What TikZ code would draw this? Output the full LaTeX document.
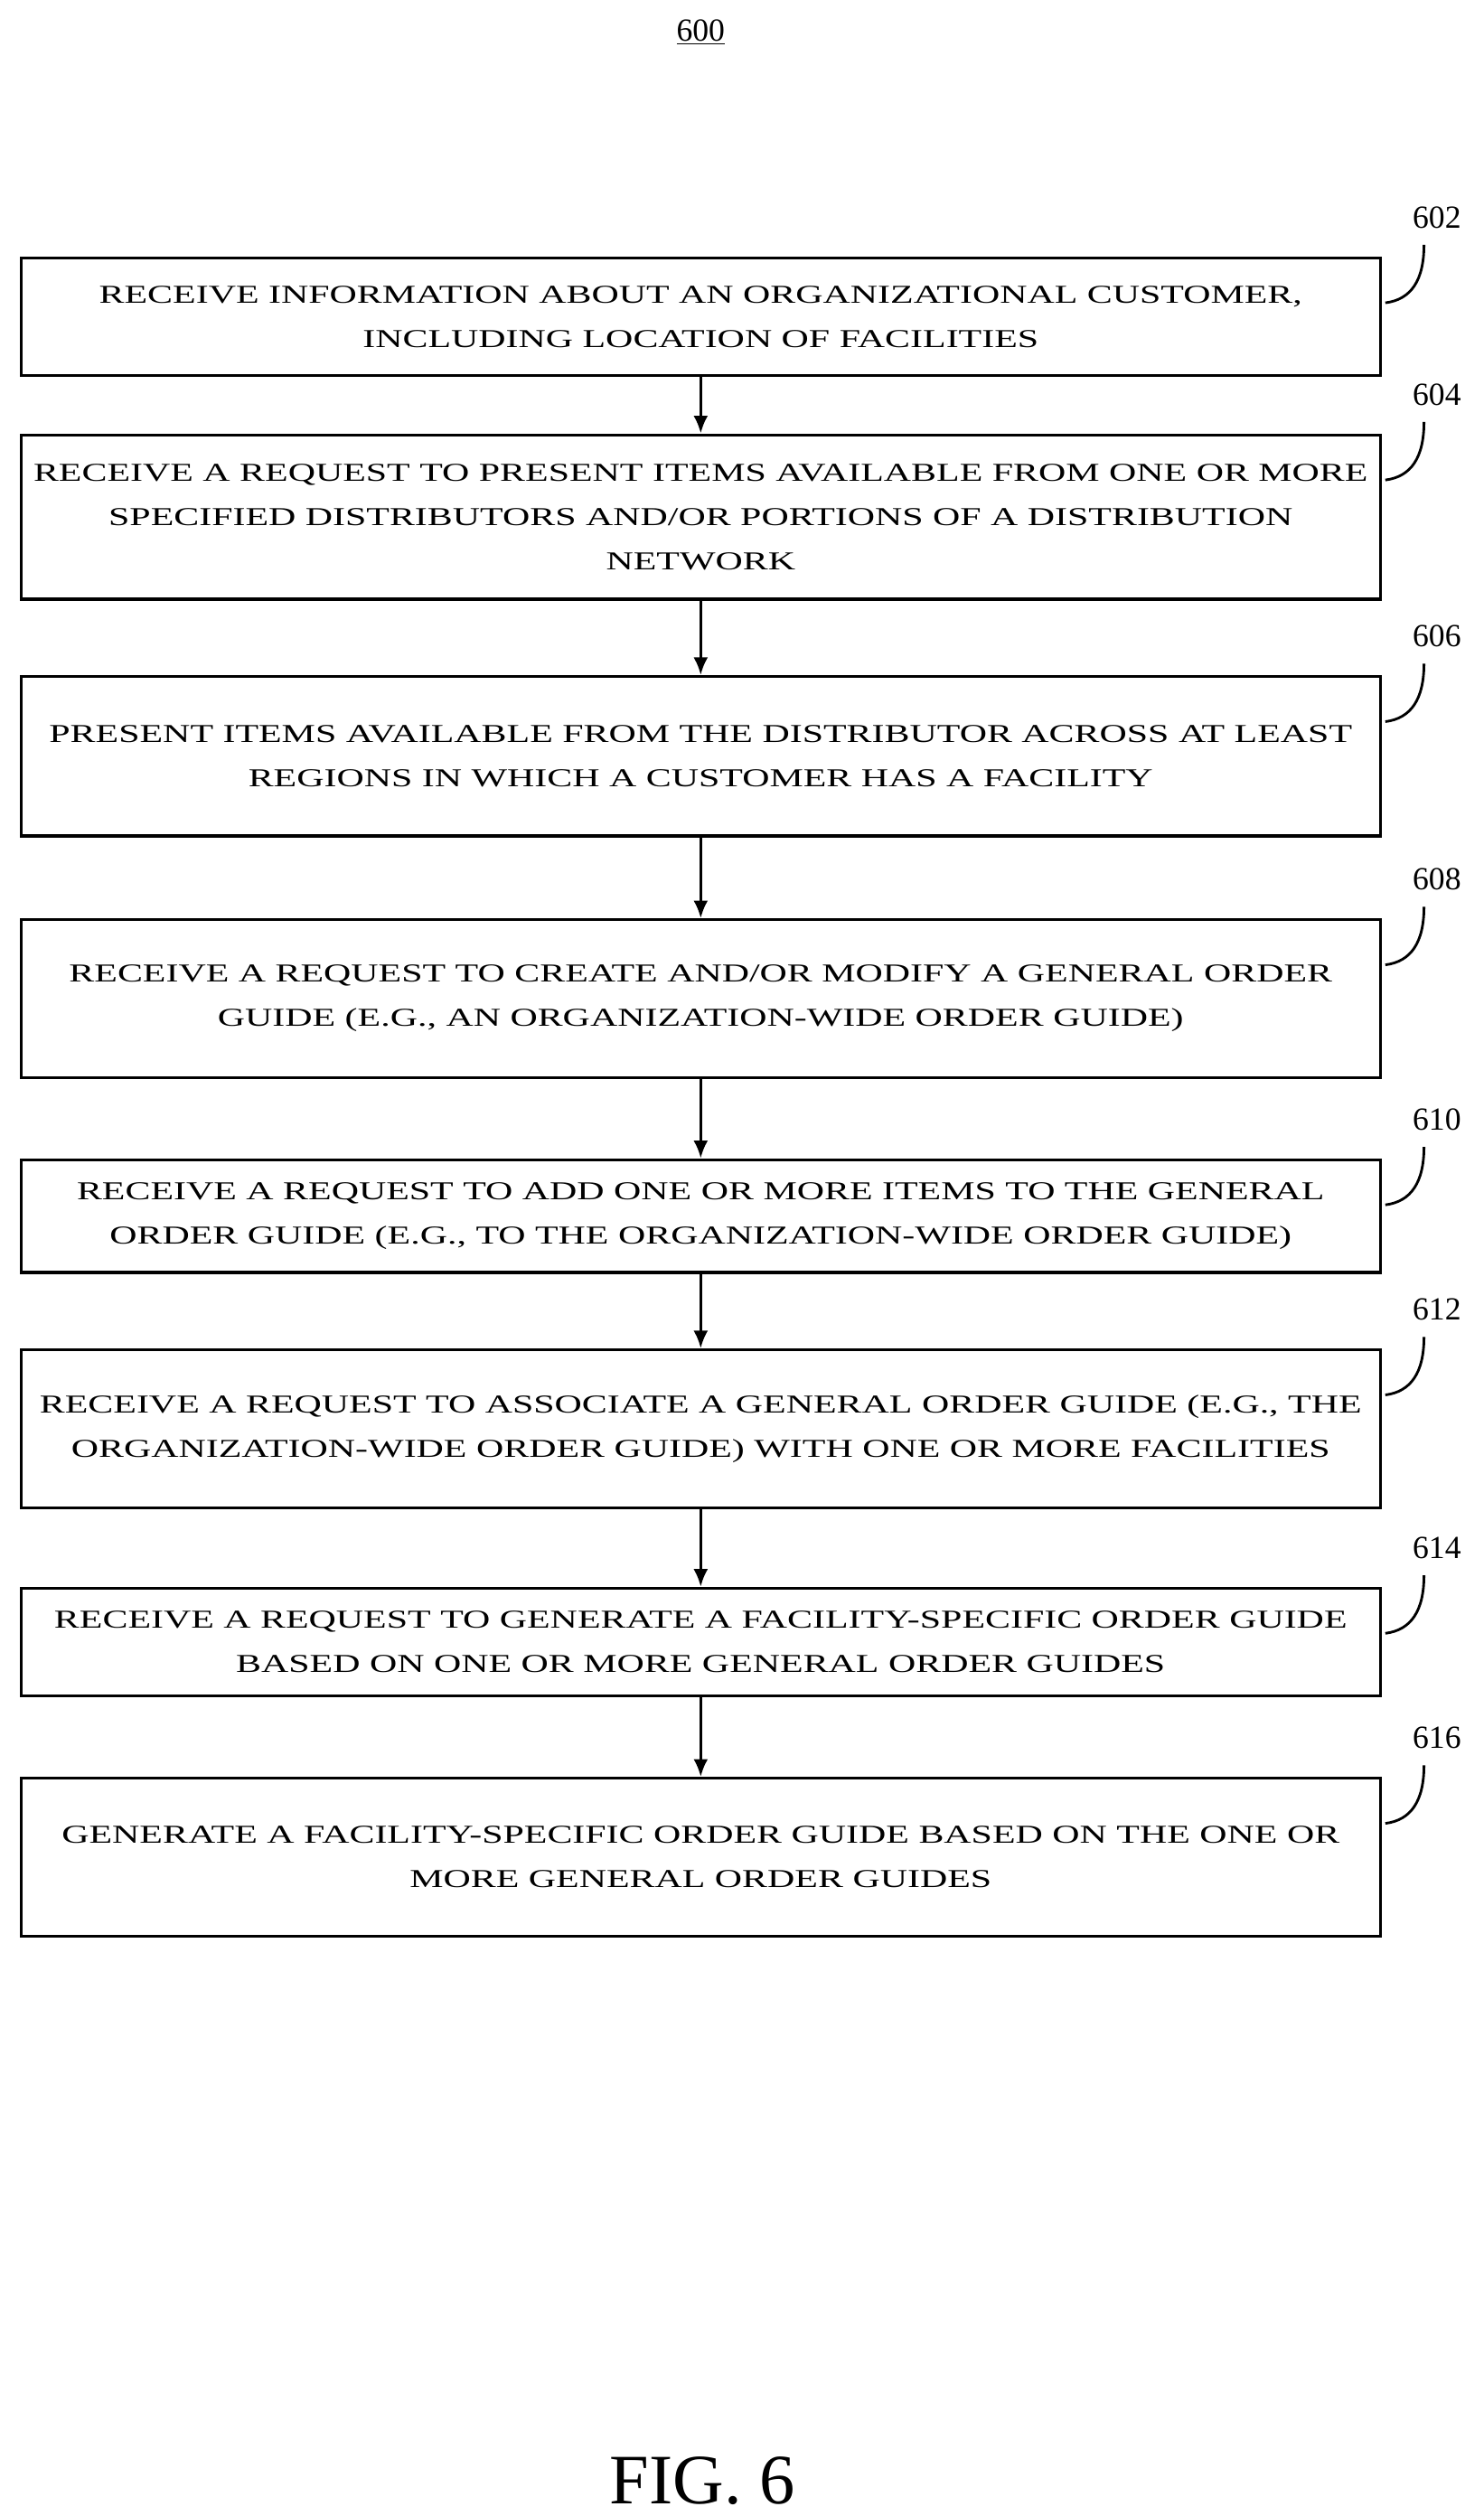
\documentclass[tikz,border=0pt]{standalone}
\usepackage{fontspec}
\setmainfont{Liberation Serif}
\newfontfamily\wide[FakeStretch=1.47]{Liberation Serif}
\usetikzlibrary{arrows.meta}
\begin{document}
\begin{tikzpicture}[x=1pt,y=-1pt,
  box/.style={draw,line width=1.8pt,minimum width=844pt,align=center,inner sep=0pt,
    font=\wide\fontsize{16}{27.5}\selectfont},
  lab/.style={font=\fontsize{20}{24}\selectfont},
  arr/.style={line width=1.8pt,-{Latex[length=11pt,width=9pt]}},
  hook/.style={line width=1.6pt}]
\useasboundingbox (0,0) rectangle (921,1562);
\node[lab] (t) at (435,20) {\underline{600}};
\node (b1) [box,minimum height=73pt] at (435,196.5) {RECEIVE INFORMATION ABOUT AN ORGANIZATIONAL CUSTOMER,\\INCLUDING LOCATION OF FACILITIES};
\node (b2) [box,minimum height=102pt] at (435,321) {RECEIVE A REQUEST TO PRESENT ITEMS AVAILABLE FROM ONE OR MORE\\SPECIFIED DISTRIBUTORS AND/OR PORTIONS OF A DISTRIBUTION\\NETWORK};
\node (b3) [box,minimum height=99pt] at (435,469.5) {PRESENT ITEMS AVAILABLE FROM THE DISTRIBUTOR ACROSS AT LEAST\\REGIONS IN WHICH A CUSTOMER HAS A FACILITY};
\node (b4) [box,minimum height=98pt] at (435,620) {RECEIVE A REQUEST TO CREATE AND/OR MODIFY A GENERAL ORDER\\GUIDE (E.G., AN ORGANIZATION-WIDE ORDER GUIDE)};
\node (b5) [box,minimum height=70pt] at (435,755) {RECEIVE A REQUEST TO ADD ONE OR MORE ITEMS TO THE GENERAL\\ORDER GUIDE (E.G., TO THE ORGANIZATION-WIDE ORDER GUIDE)};
\node (b6) [box,minimum height=98pt] at (435,887) {RECEIVE A REQUEST TO ASSOCIATE A GENERAL ORDER GUIDE (E.G., THE\\ORGANIZATION-WIDE ORDER GUIDE) WITH ONE OR MORE FACILITIES};
\node (b7) [box,minimum height=67pt] at (435,1019.5) {RECEIVE A REQUEST TO GENERATE A FACILITY-SPECIFIC ORDER GUIDE\\BASED ON ONE OR MORE GENERAL ORDER GUIDES};
\node (b8) [box,minimum height=98pt] at (435,1153) {GENERATE A FACILITY-SPECIFIC ORDER GUIDE BASED ON THE ONE OR\\MORE GENERAL ORDER GUIDES};
\foreach \a/\b in {b1/b2,b2/b3,b3/b4,b4/b5,b5/b6,b6/b7,b7/b8}
  \draw[arr] (\a.south) -- (\b.north);
\foreach \n/\y/\t in {l1/160/602,l2/270/604,l3/420/606,l4/571/608,l5/720/610,l6/838/612,l7/986/614,l8/1104/616}{
  \node[lab] (\n) at (892,\y-25) {\t};
  \draw[hook] (860,\y+28) .. controls (876,\y+26) and (884,\y+14) .. (884,\y-8);
}
\node (fig) [font=\fontsize{44}{50}\selectfont] at (436,1540) {FIG. 6};
\end{tikzpicture}
\end{document}
